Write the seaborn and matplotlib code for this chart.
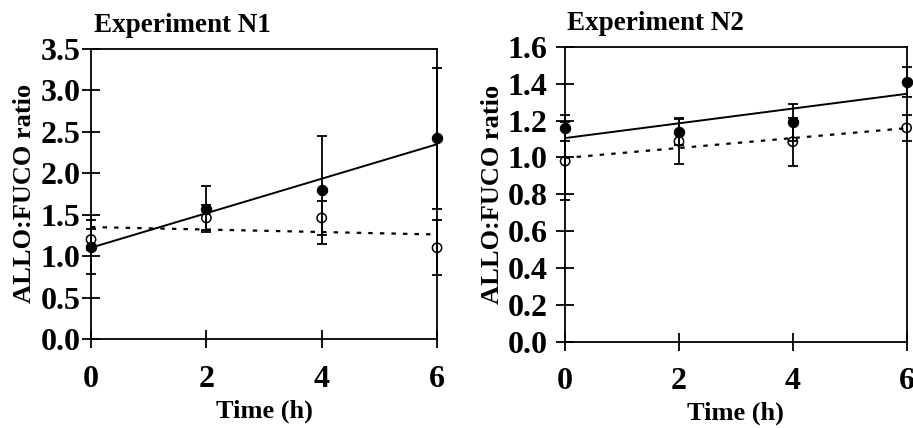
import numpy as np
import pandas as pd
import matplotlib
matplotlib.use("Agg")
import matplotlib.pyplot as plt
import seaborn as sns

# ---- data ----
time_h = [0, 2, 4, 6]

n1_filled = [1.11, 1.57, 1.80, 2.42]
n1_filled_err = [0.33, 0.28, 0.65, 0.85]
n1_open = [1.20, 1.46, 1.46, 1.10]
n1_open_err = [0.13, 0.15, 0.21, 0.33]

n2_filled = [1.16, 1.14, 1.19, 1.41]
n2_filled_err = [0.07, 0.07, 0.10, 0.08]
n2_open = [0.98, 1.087, 1.085, 1.16]
n2_open_err = [0.21, 0.125, 0.13, 0.07]

titles = ["Experiment N1", "Experiment N2"]
y_ticks = [[0.0, 0.5, 1.0, 1.5, 2.0, 2.5, 3.0, 3.5],
           [0.0, 0.2, 0.4, 0.6, 0.8, 1.0, 1.2, 1.4, 1.6]]
x_ticks = [0, 2, 4, 6]
ylabel = "ALLO:FUCO ratio"
xlabel = "Time (h)"

sns.set_style("ticks")
plt.rcParams["font.family"] = ["Liberation Serif", "DejaVu Serif"]
plt.rcParams["font.weight"] = "bold"
plt.rcParams["text.color"] = "black"
plt.rcParams["axes.labelcolor"] = "black"
plt.rcParams["xtick.color"] = "black"
plt.rcParams["ytick.color"] = "black"

fig = plt.figure(figsize=(9.13, 4.28), dpi=100)
ax1 = fig.add_axes([0.0997, 0.208, 0.379, 0.678])
ax2 = fig.add_axes([0.619, 0.2016, 0.374, 0.689])

panels = [
    (ax1, n1_filled, n1_filled_err, n1_open, n1_open_err, y_ticks[0], titles[0], 1, 0.01),
    (ax2, n2_filled, n2_filled_err, n2_open, n2_open_err, y_ticks[1], titles[1], 6, 0.005),
]

for ax, fy, fe, oy, oe, yt, title, ypad, tx in panels:
    df_f = pd.DataFrame({"t": time_h, "v": fy})
    df_o = pd.DataFrame({"t": time_h, "v": oy})
    # regression lines
    sns.regplot(data=df_f, x="t", y="v", ax=ax, ci=None, scatter=False,
                line_kws=dict(color="black", lw=1.4))
    sns.regplot(data=df_o, x="t", y="v", ax=ax, ci=None, scatter=False,
                line_kws=dict(color="black", lw=1.6, linestyle=(0, (2, 3.2))))
    # error bars
    ax.errorbar(time_h, fy, yerr=fe, fmt="none", ecolor="black", elinewidth=1.3,
                capsize=3.3, capthick=1.3, clip_on=False, zorder=3)
    ax.errorbar(time_h, oy, yerr=oe, fmt="none", ecolor="black", elinewidth=1.3,
                capsize=3.3, capthick=1.3, clip_on=False, zorder=3)
    # markers
    sns.scatterplot(data=df_f, x="t", y="v", ax=ax, color="black", s=55,
                    edgecolor="black", linewidth=0.8, zorder=5, clip_on=False)
    sns.scatterplot(data=df_o, x="t", y="v", ax=ax, facecolor="none", s=45,
                    edgecolor="black", linewidth=1.1, zorder=5, clip_on=False)

    ax.set_xlim(0, 6)
    ax.set_ylim(yt[0], yt[-1])
    ax.set_xticks(x_ticks)
    ax.set_yticks(yt)
    ax.set_yticklabels(["%.1f" % v for v in yt])
    ax.set_xticklabels([str(v) for v in x_ticks])
    for s in ax.spines.values():
        s.set_visible(True)
        s.set_color("black")
        s.set_linewidth(1.3)
    ax.tick_params(axis="both", direction="inout", length=13, width=1.3,
                   colors="black", labelsize=23)
    ax.tick_params(axis="y", pad=ypad)
    ax.tick_params(axis="x", pad=12)
    for lab in ax.get_xticklabels() + ax.get_yticklabels():
        lab.set_fontweight("bold")
        lab.set_color("black")
    ax.set_xlabel(xlabel, fontsize=19, fontweight="bold", labelpad=4, color="black")
    ax.set_ylabel(ylabel, fontsize=19, fontweight="bold", labelpad=3, color="black")
    ax.set_title(title, fontsize=19.5, fontweight="bold", loc="left", x=tx, pad=12,
                 color="black")

fig.savefig("out.png", dpi=100)
